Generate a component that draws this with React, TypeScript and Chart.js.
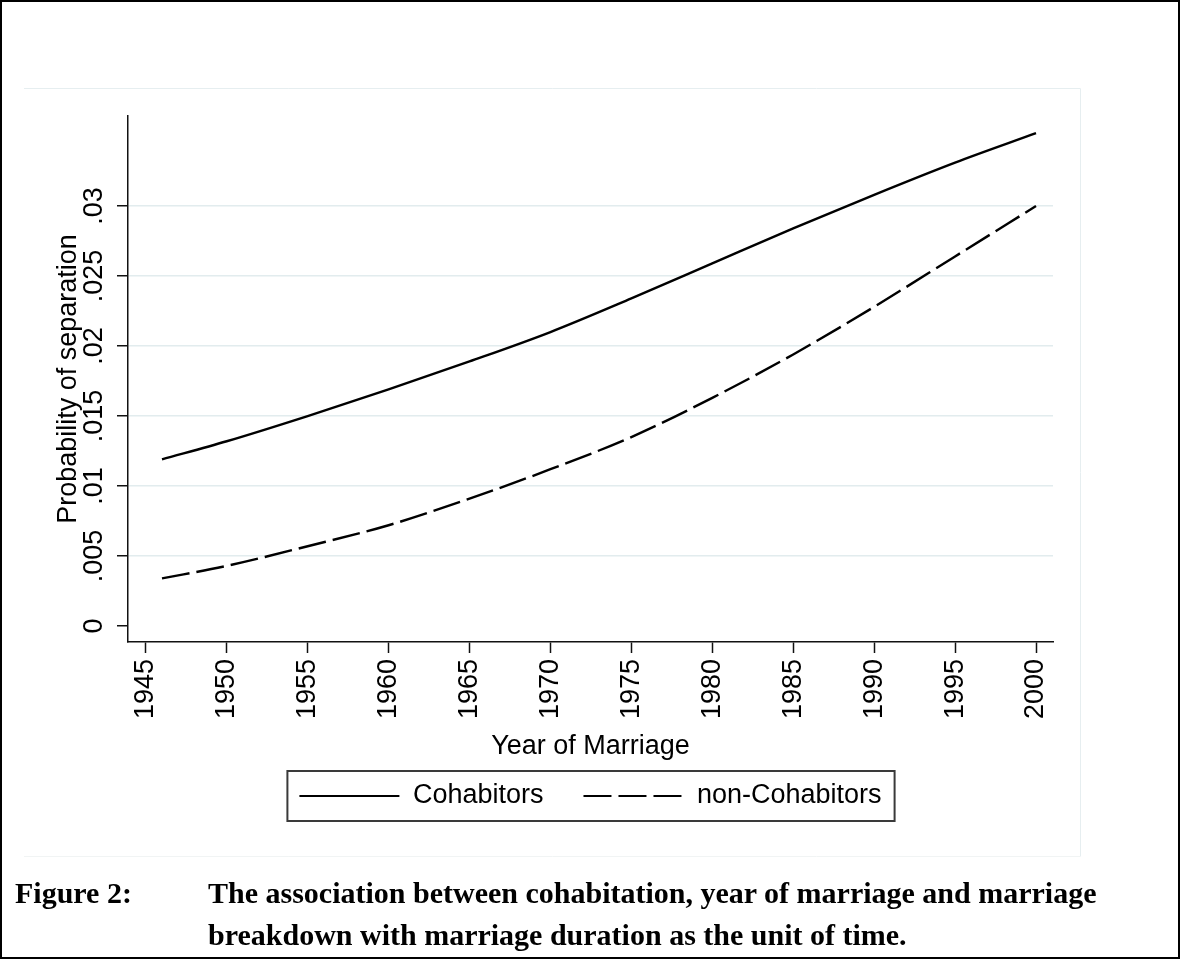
import React, { useEffect, useRef } from "react";
import { Chart, registerables } from "chart.js";

Chart.register(...registerables);

const years = [1946, 1950, 1955, 1960, 1965, 1970, 1975, 1980, 1985, 1990, 1995, 2000];
const cohabitors = [0.0119, 0.0132, 0.015, 0.0169, 0.0189, 0.021, 0.0234, 0.0259, 0.0284, 0.0308, 0.0331, 0.0352];
const nonCohabitors = [0.0034, 0.0043, 0.0057, 0.0072, 0.0091, 0.0112, 0.0135, 0.0163, 0.0194, 0.0228, 0.0264, 0.03];
const seriesLabels = ["Cohabitors", "non-Cohabitors"];
const seriesDash = [[], [28, 7]];

const xTickValues = [1945, 1950, 1955, 1960, 1965, 1970, 1975, 1980, 1985, 1990, 1995, 2000];
const yTickValues = [0, 0.005, 0.01, 0.015, 0.02, 0.025, 0.03];
const yTickLabels = ["0", ".005", ".01", ".015", ".02", ".025", ".03"];

const xTitle = "Year of Marriage";
const yTitle = "Probability of separation";
const captionLabel = "Figure 2:";
const captionLines = [
  "The association between cohabitation, year of marriage and marriage",
  "breakdown with marriage duration as the unit of time.",
];

const SANS = "'Liberation Sans', Arial, Helvetica, sans-serif";
const SERIF = "'Liberation Serif', 'Times New Roman', serif";
const GRID = "#e2ecee";
const AXIS = "#111111";

const panelPlugin = {
  id: "panelOutline",
  beforeDraw(chart: any) {
    const ctx = chart.ctx;
    ctx.save();
    ctx.lineWidth = 1;
    ctx.strokeStyle = "#e6eef0";
    ctx.beginPath();
    ctx.moveTo(24, 88.5);
    ctx.lineTo(1080.5, 88.5);
    ctx.lineTo(1080.5, 856.5);
    ctx.stroke();
    ctx.strokeStyle = "#f1f4f4";
    ctx.beginPath();
    ctx.moveTo(24, 856.5);
    ctx.lineTo(1080.5, 856.5);
    ctx.stroke();
    ctx.restore();
  },
};

const legendBoxPlugin = {
  id: "legendBox",
  afterDraw(chart: any) {
    const lg = chart.legend;
    if (!lg || !lg.legendHitBoxes || !lg.legendHitBoxes.length) return;
    const hb = lg.legendHitBoxes;
    const first = hb[0];
    const last = hb[hb.length - 1];
    const left = first.left - 12;
    const right = last.left + last.width + 13;
    const cy = first.top + first.height / 2;
    const ctx = chart.ctx;
    ctx.save();
    ctx.strokeStyle = "#3a3a3a";
    ctx.lineWidth = 2;
    ctx.strokeRect(left, cy - 25, right - left, 50);
    ctx.restore();
  },
};

export default function App() {
  const ref = useRef<HTMLCanvasElement | null>(null);

  useEffect(() => {
    if (!ref.current) return;
    const chart = new Chart(ref.current, {
      type: "line",
      data: {
        datasets: [
          {
            label: seriesLabels[0],
            data: years.map((x, i) => ({ x, y: cohabitors[i] })),
            borderColor: "#000000",
            backgroundColor: "#000000",
            borderWidth: 2.4,
            borderDash: seriesDash[0],
            pointRadius: 0,
            cubicInterpolationMode: "monotone",
          },
          {
            label: seriesLabels[1],
            data: years.map((x, i) => ({ x, y: nonCohabitors[i] })),
            borderColor: "#000000",
            backgroundColor: "#000000",
            borderWidth: 2.4,
            borderDash: seriesDash[1],
            pointRadius: 0,
            cubicInterpolationMode: "monotone",
          },
        ],
      },
      options: {
        responsive: false,
        animation: false,
        events: [],
        layout: { padding: { top: 116, left: 0, right: 127, bottom: 139.5 } },
        scales: {
          x: {
            type: "linear",
            min: 1943.9,
            max: 2001.05,
            afterBuildTicks: (s: any) => {
              s.ticks = xTickValues.map((v) => ({ value: v }));
            },
            afterFit: (s: any) => {
              s.height = 100.5;
            },
            grid: {
              drawOnChartArea: false,
              drawTicks: true,
              tickLength: 11,
              tickColor: AXIS,
              tickWidth: 1.5,
            },
            border: { display: true, color: AXIS, width: 1.5 },
            ticks: {
              autoSkip: false,
              minRotation: 90,
              maxRotation: 90,
              padding: 6,
              color: "#000000",
              font: { family: SANS, size: 27 },
              callback: (v: any) => String(v),
            },
            title: {
              display: true,
              text: xTitle,
              color: "#000000",
              font: { family: SANS, size: 27 },
              padding: { top: 0, bottom: -20 },
            },
          },
          y: {
            type: "linear",
            min: -0.00114,
            max: 0.03643,
            afterBuildTicks: (s: any) => {
              s.ticks = yTickValues.map((v) => ({ value: v }));
            },
            afterFit: (s: any) => {
              s.width = 128;
            },
            grid: {
              color: (c: any) => (c.tick && c.tick.value === 0 ? "rgba(0,0,0,0)" : GRID),
              lineWidth: 1.5,
              tickLength: 11,
              tickColor: AXIS,
              tickWidth: 1.5,
            },
            border: { display: true, color: AXIS, width: 1.5 },
            ticks: {
              minRotation: 90,
              maxRotation: 90,
              crossAlign: "center",
              padding: -3.5,
              color: "#000000",
              font: { family: SANS, size: 27 },
              callback: (v: any) => {
                const i = yTickValues.indexOf(v);
                return i >= 0 ? yTickLabels[i] : "";
              },
            },
            title: {
              display: true,
              text: yTitle,
              color: "#000000",
              font: { family: SANS, size: 27 },
              padding: { top: 52.5, bottom: 0 },
            },
          },
        },
        plugins: {
          legend: {
            position: "bottom",
            fullSize: false,
            labels: {
              usePointStyle: true,
              pointStyle: "line",
              pointStyleWidth: 100,
              padding: 40,
              color: "#000000",
              font: { family: SANS, size: 27 },
              generateLabels: (ch: any) => {
                const items = (Chart as any).defaults.plugins.legend.labels.generateLabels(ch);
                return items.map((it: any, i: number) => ({
                  ...it,
                  lineDash: ch.data.datasets[i].borderDash || [],
                  lineWidth: 2.2,
                  strokeStyle: "#000000",
                  pointStyle: "line",
                }));
              },
            },
          },
          tooltip: { enabled: false },
        },
      } as any,
      plugins: [panelPlugin, legendBoxPlugin],
    });
    return () => chart.destroy();
  }, []);

  const captionStyle: React.CSSProperties = {
    position: "absolute",
    fontFamily: SERIF,
    fontWeight: "bold",
    fontSize: 30,
    lineHeight: "30px",
    whiteSpace: "nowrap",
    color: "#000",
  };

  return (
    <div style={{ position: "fixed", left: 0, top: 0, width: 1180, height: 959, background: "#fff", overflow: "hidden" }}>
      <canvas ref={ref} width={1180} height={959} style={{ position: "absolute", left: 0, top: 0, width: 1180, height: 959 }} />
      <div style={{ ...captionStyle, left: 15, top: 878 }}>{captionLabel}</div>
      <div style={{ ...captionStyle, left: 208, top: 878 }}>{captionLines[0]}</div>
      <div style={{ ...captionStyle, left: 208, top: 920 }}>{captionLines[1]}</div>
      <div
        style={{
          position: "absolute",
          left: 0,
          top: 0,
          width: 1180,
          height: 959,
          boxSizing: "border-box",
          border: "2px solid #000",
          pointerEvents: "none",
        }}
      />
    </div>
  );
}
